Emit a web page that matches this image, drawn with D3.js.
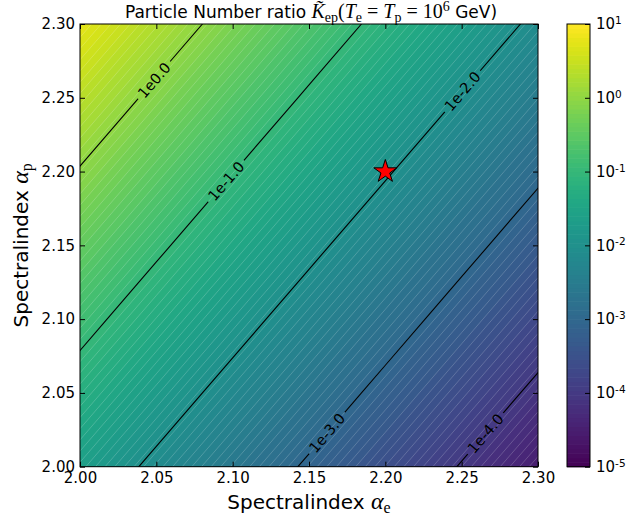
<!DOCTYPE html>
<html><head><meta charset="utf-8">
<script src="https://cdn.jsdelivr.net/npm/d3@7"></script>
<style>body{margin:0;background:#fff}svg{display:block}</style>
</head><body>
<svg id="c" width="626" height="521"></svg>
<script>
// ---------------- data ----------------
const alphaE = [2.00, 2.05, 2.10, 2.15, 2.20, 2.25, 2.30];
const alphaP = [2.00, 2.05, 2.10, 2.15, 2.20, 2.25, 2.30];
// log10 of the particle number ratio K_ep; rows = alphaP (ascending), columns = alphaE
const log10K = [
  [-1.63, -2.11, -2.59, -3.07, -3.55, -4.03, -4.51],
  [-1.23, -1.71, -2.19, -2.67, -3.15, -3.63, -4.11],
  [-0.83, -1.31, -1.79, -2.27, -2.75, -3.23, -3.71],
  [-0.43, -0.91, -1.39, -1.87, -2.35, -2.83, -3.31],
  [-0.03, -0.51, -0.99, -1.47, -1.95, -2.43, -2.91],
  [ 0.37, -0.11, -0.59, -1.07, -1.55, -2.03, -2.51],
  [ 0.77,  0.29, -0.19, -0.67, -1.15, -1.63, -2.11]
];
const contourLevels = [-4, -3, -2, -1, 0];
const contourLabels = ["1e-4.0", "1e-3.0", "1e-2.0", "1e-1.0", "1e0.0"];
const xTicks = [2.00, 2.05, 2.10, 2.15, 2.20, 2.25, 2.30];
const yTicks = [2.00, 2.05, 2.10, 2.15, 2.20, 2.25, 2.30];
const cbarTicks = [1e-5, 1e-4, 1e-3, 1e-2, 1e-1, 1e0, 1e1];
const cbarExponents = ["-5", "-4", "-3", "-2", "-1", "0", "1"];
const starPoint = [2.20, 2.20];

// ---------------- layout ----------------
const L = 80, R = 538, T = 24, B = 466.7;
const CBL = 567, CBR = 590;
const labelAnchors = [[2.2659, 2.0222], [2.1618, 2.0229], [2.2510, 2.2540], [2.0956, 2.1936], [2.0485, 2.2620]];
const nLev = 100, logMin = -5, logMax = 1;
const fillLevels = d3.range(nLev).map(i => logMin + (logMax - logMin) * i / (nLev - 1));

const svg = d3.select("#c");
const x = d3.scaleLinear().domain(d3.extent(alphaE)).range([L, R]);
const y = d3.scaleLinear().domain(d3.extent(alphaP)).range([B, T]);
const nx = alphaE.length, ny = alphaP.length;
const gx = d3.scaleLinear().domain([0.5, nx - 0.5]).range([x(alphaE[0]), x(alphaE[nx - 1])]);
const gy = d3.scaleLinear().domain([0.5, ny - 0.5]).range([y(alphaP[0]), y(alphaP[ny - 1])]);
const norm = d3.scaleLinear().domain([logMin, logMax]).range([0, 1]);
const color = v => d3.interpolateViridis(norm(v));
const flat = log10K.flat();
const proj = d3.geoTransform({point(px, py) { this.stream.point(gx(px), gy(py)); }});
const path = d3.geoPath(proj);

const defs = svg.append("defs");
defs.append("clipPath").attr("id", "plotclip").append("rect")
  .attr("x", L).attr("y", T).attr("width", R - L).attr("height", B - T);

// ---------------- filled contours ----------------
const bandThr = fillLevels.slice(0, -1);
const bands = d3.contours().size([nx, ny]).smooth(true).thresholds(bandThr)(flat);
const gPlot = svg.append("g").attr("clip-path", "url(#plotclip)");
gPlot.append("g").selectAll("path").data(bands).join("path")
  .attr("d", path)
  .attr("fill", (d, i) => color((fillLevels[i] + fillLevels[i + 1]) / 2))
  .attr("stroke", "#fff").attr("stroke-opacity", 0.32).attr("stroke-width", 0.6);

// ---------------- contour lines + labels ----------------
const lines = d3.contours().size([nx, ny]).smooth(true).thresholds(contourLevels)(flat);
const mask = defs.append("mask").attr("id", "lblmask").attr("maskUnits", "userSpaceOnUse")
  .attr("x", 0).attr("y", 0).attr("width", 626).attr("height", 521);
mask.append("rect").attr("x", 0).attr("y", 0).attr("width", 626).attr("height", 521).attr("fill", "#fff");
gPlot.append("g").attr("mask", "url(#lblmask)").selectAll("path").data(lines).join("path")
  .attr("d", path).attr("fill", "none").attr("stroke", "#000").attr("stroke-width", 1.1);

const gLbl = svg.append("g");
lines.forEach((c, k) => {
  const tx = x(labelAnchors[k][0]), ty = y(labelAnchors[k][1]);
  let best = null;
  c.coordinates.forEach(poly => poly.forEach(ring => {
    for (let i = 0; i < ring.length - 1; i++) {
      const a = ring[i], b = ring[i + 1];
      const inside = p => p[0] >= 0.5 && p[0] <= nx - 0.5 && p[1] >= 0.5 && p[1] <= ny - 0.5;
      if (!inside(a) || !inside(b)) continue;
      const ax = gx(a[0]), ay = gy(a[1]), bx = gx(b[0]), by = gy(b[1]);
      const dx = bx - ax, dy = by - ay, len2 = dx * dx + dy * dy;
      if (len2 === 0) continue;
      let t = ((tx - ax) * dx + (ty - ay) * dy) / len2;
      t = Math.max(0, Math.min(1, t));
      const px = ax + t * dx, py = ay + t * dy;
      const dist = (px - tx) ** 2 + (py - ty) ** 2;
      if (!best || dist < best.dist) best = {dist, px, py, ang: Math.atan2(dy, dx) * 180 / Math.PI};
    }
  }));
  if (!best) return;
  let ang = best.ang;
  if (ang > 90) ang -= 180;
  if (ang < -90) ang += 180;
  const t = gLbl.append("text")
    .attr("transform", `translate(${best.px},${best.py}) rotate(${ang})`)
    .attr("text-anchor", "middle").attr("dy", "0.36em")
    .attr("font-family", "DejaVu Sans").attr("font-size", 14.5).attr("fill", "#000")
    .text(contourLabels[k]);
  const w = t.node().getComputedTextLength();
  mask.append("rect")
    .attr("transform", `translate(${best.px},${best.py}) rotate(${ang})`)
    .attr("x", -w / 2 - 4).attr("y", -9).attr("width", w + 8).attr("height", 18).attr("fill", "#000");
});

// ---------------- star ----------------
svg.append("path")
  .attr("d", d3.symbol(d3.symbolStar, 164)())
  .attr("transform", `translate(${x(starPoint[0])},${y(starPoint[1])})`)
  .attr("fill", "#ff0000").attr("stroke", "#000").attr("stroke-width", 1);

// ---------------- axes ----------------
const fmt = d3.format(".2f");
function styleAxis(g) {
  g.select(".domain").remove();
  g.selectAll("line").attr("stroke", "#000").attr("stroke-width", 1);
  g.selectAll("text").attr("font-family", "DejaVu Sans").attr("font-size", 15).attr("fill", "#000");
}
svg.append("g").attr("transform", `translate(0,${B})`)
  .call(d3.axisBottom(x).tickValues(xTicks).tickFormat(fmt).tickSizeInner(-5).tickSizeOuter(0).tickPadding(6)).call(styleAxis);
svg.append("g").attr("transform", `translate(0,${T})`)
  .call(d3.axisTop(x).tickValues(xTicks).tickFormat("").tickSizeInner(-5).tickSizeOuter(0)).call(styleAxis);
svg.append("g").attr("transform", `translate(${L},0)`)
  .call(d3.axisLeft(y).tickValues(yTicks).tickFormat(fmt).tickSizeInner(-5).tickSizeOuter(0).tickPadding(5)).call(styleAxis);
svg.append("g").attr("transform", `translate(${R},0)`)
  .call(d3.axisRight(y).tickValues(yTicks).tickFormat("").tickSizeInner(-5).tickSizeOuter(0)).call(styleAxis);
svg.append("rect").attr("x", L).attr("y", T).attr("width", R - L).attr("height", B - T)
  .attr("fill", "none").attr("stroke", "#000").attr("stroke-width", 1);

// ---------------- colorbar ----------------
const cb = d3.scaleLog().domain([cbarTicks[0], cbarTicks[cbarTicks.length - 1]]).range([B, T]);
const gCb = svg.append("g");
gCb.selectAll("rect").data(bandThr).join("rect")
  .attr("x", CBL).attr("width", CBR - CBL)
  .attr("y", (d, i) => cb(Math.pow(10, fillLevels[i + 1])))
  .attr("height", (d, i) => cb(Math.pow(10, fillLevels[i])) - cb(Math.pow(10, fillLevels[i + 1])) + 0.6)
  .attr("fill", (d, i) => color((fillLevels[i] + fillLevels[i + 1]) / 2));
const cbAxis = svg.append("g").attr("transform", `translate(${CBR},0)`)
  .call(d3.axisRight(cb).tickValues(cbarTicks).tickFormat("").tickSizeInner(-5).tickSizeOuter(0).tickPadding(6))
  .call(styleAxis);
cbAxis.selectAll(".tick text").each(function(d, i) {
  const t = d3.select(this);
  t.text("10");
  t.append("tspan").attr("dy", "-0.5em").attr("font-size", 10.5).text(cbarExponents[i]);
});
svg.append("rect").attr("x", CBL).attr("y", T).attr("width", CBR - CBL).attr("height", B - T)
  .attr("fill", "none").attr("stroke", "#000").attr("stroke-width", 1);

// ---------------- texts ----------------
function rich(sel, parts) {
  let cur = 0;
  parts.forEach(p => {
    const ts = sel.append("tspan").text(p.t);
    if (p.f) ts.attr("font-family", p.f);
    if (p.i) ts.attr("font-style", "italic");
    if (p.s) ts.attr("font-size", p.s);
    const sh = p.sh || 0;
    if (sh !== cur) { ts.attr("dy", sh - cur); cur = sh; }
  });
}
const SERIF = "Liberation Serif";
const title = svg.append("text").attr("x", 311).attr("y", 18).attr("text-anchor", "middle")
  .attr("font-family", "DejaVu Sans").attr("font-size", 17).attr("fill", "#000");
rich(title, [
  {t: "Particle Number ratio "},
  {t: "K\u0303", f: SERIF, i: true, s: 20},
  {t: "ep", f: SERIF, s: 14, sh: 4},
  {t: "(", f: SERIF, s: 20},
  {t: "T", f: SERIF, i: true, s: 20},
  {t: "e", f: SERIF, s: 14, sh: 4},
  {t: " = ", f: SERIF, s: 20},
  {t: "T", f: SERIF, i: true, s: 20},
  {t: "p", f: SERIF, s: 14, sh: 4},
  {t: " = ", f: SERIF, s: 20},
  {t: "10", f: SERIF, s: 20},
  {t: "6", f: SERIF, s: 14, sh: -7},
  {t: " GeV)"}
]);

const xl = svg.append("text").attr("x", 309).attr("y", 509).attr("text-anchor", "middle")
  .attr("font-family", "DejaVu Sans").attr("font-size", 20).attr("fill", "#000");
rich(xl, [{t: "Spectralindex "}, {t: "\u03b1", f: SERIF, i: true, s: 24}, {t: "e", f: SERIF, s: 16, sh: 4}]);

const yl = svg.append("text").attr("transform", `translate(28,${(T + B) / 2}) rotate(-90)`).attr("text-anchor", "middle")
  .attr("font-family", "DejaVu Sans").attr("font-size", 20).attr("fill", "#000");
rich(yl, [{t: "Spectralindex "}, {t: "\u03b1", f: SERIF, i: true, s: 24}, {t: "p", f: SERIF, s: 16, sh: 4}]);
</script>
</body></html>
